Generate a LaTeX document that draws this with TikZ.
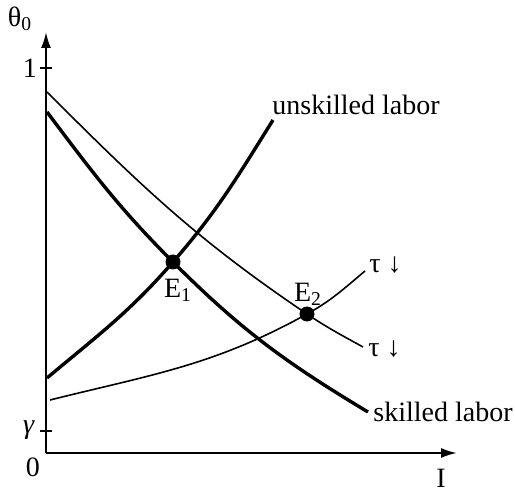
\documentclass[tikz,border=0pt]{standalone}
\usepackage{fontspec}
\setmainfont{Liberation Serif}
\usepackage{tikz}
\usetikzlibrary{arrows.meta,positioning}

\begin{document}
\begin{tikzpicture}[x=0.5pt,y=0.5pt,
  axis/.style={line width=1pt},
  thickcurve/.style={line width=1.7pt},
  thincurve/.style={line width=0.8pt},
  eqdot/.style={circle,fill,inner sep=0pt,minimum size=7.5pt},
  lbl/.style={font=\fontsize{14}{16}\selectfont,inner sep=1pt}]
  \useasboundingbox (-46,-40) rectangle (469,453);
  % axes
  \coordinate (O) at (0,0);
  \coordinate (ytop) at (0,421);
  \coordinate (xend) at (411,0);
  \draw[axis,-{Latex[length=8pt,width=5pt]}] (O) -- (ytop);
  \draw[axis,-{Latex[length=8pt,width=5pt]}] (O) -- (xend);
  \draw[axis] (-6,385) -- (6,385);
  \draw[axis] (-6,22) -- (6,22);
  \node[lbl] (theta) at (-26,434) {θ\textsubscript{0}};
  \node[lbl] (one) at (-16,385) {1};
  \node[lbl] (gam) at (-17,23) {\textit{γ}};
  \node[lbl] (zero) at (-13,-14) {0};
  \node[lbl] (ilab) at (395,-25) {I};
  % equilibria and curves
  \coordinate (e1) at (127,191);
  \coordinate (e2) at (261,139);
  \draw[thickcurve] (1,75) to[out=40,in=229] (e1) to[out=49,in=238] (227,333);
  \draw[thickcurve] (1,341) to[out=-53,in=135] (e1) to[out=-45,in=149] (322,41);
  \draw[thincurve] (1,361) to[out=-45,in=146] (e2) to[out=-34,in=151] (317,106);
  \draw[thincurve] (4,53) to[out=14,in=209] (e2) to[out=29,in=220] (319,182);
  \node[eqdot] (E1) at (e1) {};
  \node[eqdot] (E2) at (e2) {};
  \node[lbl] (E1lbl) at (132,163) {E\textsubscript{1}};
  \node[lbl] (E2lbl) at (262,159) {E\textsubscript{2}};
  \node[lbl,anchor=west] (unsk) at (224,348) {unskilled labor};
  \node[lbl,anchor=west] (sk) at (325,41) {skilled labor};
  \node[lbl,anchor=west] (tauup) at (321,188) {τ ↓};
  \node[lbl,anchor=west] (taulo) at (320,104) {τ ↓};
\end{tikzpicture}
\end{document}
